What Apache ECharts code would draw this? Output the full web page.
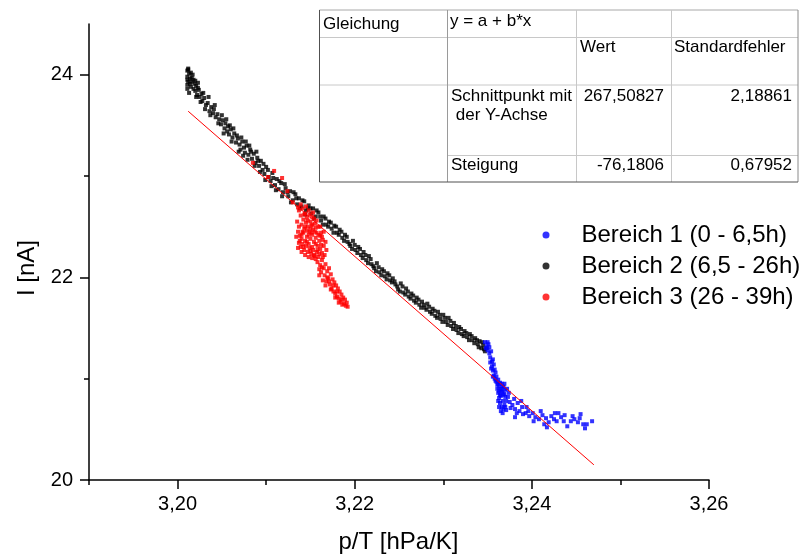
<!DOCTYPE html>
<html>
<head>
<meta charset="utf-8">
<script src="https://cdn.jsdelivr.net/npm/echarts@6/dist/echarts.min.js"></script>
<style>
  html, body { margin: 0; padding: 0; background: #fff; }
  #chart { width: 807px; height: 557px; }
</style>
</head>
<body>
<div id="chart"></div>
<script>
// Linear fit y = a + b*x
const fitA = 267.50827;
const fitB = -76.1806;
const fitAErr = 2.18861;
const fitBErr = 0.67952;
const fitRange = [3.2012, 3.2470];

// Axis ticks
const xMajorTicks = [3.20, 3.22, 3.24, 3.26];
const xMinorTicks = [3.19, 3.21, 3.23, 3.25];
const yMajorTicks = [20, 22, 24];
const yMinorTicks = [21, 23];

const seriesNames = ['Bereich 1 (0 - 6,5h)', 'Bereich 2 (6,5 - 26h)', 'Bereich 3 (26 - 39h)'];

// Bereich 1: p/T [hPa/K], I [nA]
const bereich1 = [
  [3.2347,21.36],[3.2349,21.32],[3.2350,21.28],[3.2351,21.34],[3.2352,21.25],[3.2353,21.21],[3.2354,21.27],
  [3.2355,21.17],[3.2355,21.12],[3.2356,21.08],[3.2357,21.14],[3.2357,21.03],[3.2358,21.00],[3.2359,21.06],
  [3.2360,20.97],[3.2361,20.94],[3.2362,20.99],[3.2363,20.92],[3.2364,20.96],[3.2365,20.90],[3.2366,20.95],
  [3.2367,20.88],[3.2368,20.92],[3.2369,20.85],[3.2370,20.89],[3.2362,20.86],[3.2363,20.81],[3.2364,20.76],
  [3.2365,20.83],[3.2366,20.72],[3.2367,20.78],[3.2368,20.70],[3.2369,20.74],[3.2371,20.69],[3.2373,20.82],
  [3.2375,20.77],[3.2376,20.71],[3.2380,20.80],[3.2384,20.76],[3.2388,20.78],[3.2381,20.70],[3.2386,20.68],
  [3.2390,20.65],[3.2394,20.72],[3.2393,20.66],[3.2381,20.62],[3.2397,20.63],[3.2401,20.66],[3.2404,20.62],
  [3.2408,20.60],[3.2412,20.64],[3.2416,20.61],[3.2419,20.57],[3.2422,20.63],[3.2425,20.60],[3.2428,20.58],
  [3.2430,20.66],[3.2433,20.62],[3.2437,20.64],[3.2440,20.53],[3.2444,20.58],[3.2446,20.63],[3.2452,20.57],
  [3.2454,20.61],[3.2458,20.55],[3.2460,20.51],[3.2468,20.58],[3.2417,20.52],[3.2414,20.55],
  [3.2348,21.30],[3.2350,21.36],[3.2352,21.31],[3.2353,21.16],[3.2354,21.10],[3.2356,21.19],[3.2356,21.02],
  [3.2358,21.09],[3.2359,20.98],[3.2360,21.02],[3.2361,20.90],[3.2362,20.95],[3.2363,20.88],[3.2364,20.84],
  [3.2366,20.87],[3.2367,20.92],[3.2368,20.84],[3.2369,20.95],[3.2370,20.82],[3.2371,20.78],[3.2372,20.90],
  [3.2374,20.86],[3.2362,20.78],[3.2363,20.72],[3.2365,20.68],[3.2367,20.66],[3.2370,20.72],[3.2378,20.74],
  [3.2383,20.66],[3.2389,20.72],[3.2396,20.68],[3.2402,20.58],[3.2410,20.68],[3.2426,20.66],[3.2436,20.58],
  [3.2448,20.60],[3.2455,20.65],[3.2462,20.55]
];

// Bereich 2
const bereich2 = [
  [3.2011,24.04],[3.2011,23.98],[3.2012,23.93],[3.2011,23.90],[3.2013,24.01],[3.2014,23.96],[3.2015,23.88],
  [3.2016,23.93],[3.2017,24.00],[3.2018,23.86],[3.2019,23.91],[3.2020,23.84],[3.2021,23.89],[3.2022,23.80],
  [3.2024,23.85],[3.2025,23.78],[3.2012,24.05],[3.2016,23.97],[3.2020,23.94],[3.2023,23.87],[3.2011,23.86],
  [3.2014,23.91],
  [3.2027,23.81],[3.2028,23.74],[3.2030,23.77],[3.2032,23.70],[3.2034,23.72],[3.2036,23.64],[3.2038,23.68],
  [3.2040,23.62],[3.2041,23.66],[3.2043,23.58],[3.2045,23.61],
  [3.2047,23.56],[3.2049,23.51],[3.2051,23.55],[3.2053,23.47],[3.2054,23.52],[3.2056,23.44],[3.2057,23.49],
  [3.2058,23.41],[3.2060,23.46],[3.2062,23.38],[3.2064,23.42],
  [3.2066,23.33],[3.2068,23.37],[3.2070,23.31],[3.2071,23.26],[3.2073,23.34],[3.2075,23.28],[3.2076,23.23],
  [3.2078,23.30],[3.2080,23.21],[3.2082,23.26],[3.2084,23.17],[3.2086,23.22],[3.2088,23.13],[3.2090,23.18],
  [3.2092,23.10],[3.2094,23.15],[3.2096,23.06],[3.2098,23.02],[3.2100,23.09],[3.2103,22.99],[3.2105,22.95],
  [3.2107,23.03],[3.2110,22.91],[3.2112,22.97],[3.2114,22.87],[3.2117,22.93],[3.2119,22.84],
  [3.2122,22.88],[3.2125,22.80],[3.2127,22.85],[3.2130,22.76],[3.2133,22.82],[3.2135,22.72],[3.2137,22.78],
  [3.2140,22.70],[3.2143,22.75],[3.2145,22.66],[3.2148,22.71],
  [3.2151,22.63],[3.2153,22.68],[3.2156,22.60],[3.2159,22.64],[3.2162,22.56],[3.2165,22.60],[3.2168,22.52],
  [3.2171,22.55],[3.2174,22.48],[3.2177,22.51],[3.2180,22.44],
  [3.2183,22.47],[3.2186,22.39],[3.2189,22.42],[3.2192,22.35],[3.2195,22.31],[3.2198,22.36],[3.2201,22.27],
  [3.2204,22.30],[3.2207,22.22],[3.2210,22.25],
  [3.2213,22.17],[3.2216,22.21],[3.2219,22.13],[3.2222,22.09],[3.2225,22.14],[3.2228,22.05],[3.2231,22.08],
  [3.2234,22.01],[3.2237,22.04],[3.2240,21.97],
  [3.2243,21.99],[3.2246,21.93],[3.2249,21.88],[3.2252,21.94],[3.2255,21.85],[3.2258,21.89],[3.2261,21.81],
  [3.2264,21.84],[3.2267,21.77],[3.2270,21.80],
  [3.2273,21.73],[3.2276,21.76],[3.2279,21.70],[3.2282,21.74],[3.2285,21.66],[3.2288,21.69],[3.2291,21.62],
  [3.2294,21.66],[3.2297,21.59],[3.2300,21.63],
  [3.2303,21.56],[3.2306,21.60],[3.2309,21.52],[3.2312,21.55],[3.2315,21.48],[3.2318,21.51],[3.2321,21.44],
  [3.2324,21.47],[3.2327,21.41],[3.2330,21.44],[3.2333,21.38],
  [3.2336,21.40],[3.2339,21.34],[3.2341,21.37],[3.2343,21.30],[3.2345,21.33],[3.2347,21.27],[3.2349,21.30],
  [3.2011,23.95],[3.2012,24.06],[3.2013,23.82],[3.2015,24.02],[3.2018,23.95],[3.2021,23.78],[3.2023,23.92],
  [3.2026,23.73],[3.2029,23.82],[3.2031,23.66],[3.2035,23.78],[3.2037,23.60],[3.2042,23.70],[3.2046,23.52],
  [3.2050,23.60],[3.2052,23.42],[3.2055,23.56],[3.2059,23.50],[3.2061,23.34],[3.2063,23.47],[3.2067,23.40],
  [3.2069,23.24],[3.2072,23.38],[3.2074,23.20],[3.2077,23.34],[3.2079,23.16],[3.2081,23.30],[3.2083,23.24],
  [3.2087,23.10],[3.2089,23.24],[3.2091,23.15],[3.2093,23.04],[3.2097,23.12],[3.2099,22.96],[3.2102,23.06],
  [3.2106,22.90],[3.2108,22.98],[3.2111,22.86],[3.2115,22.95],[3.2118,22.80],[3.2121,22.92],[3.2124,22.84],
  [3.2128,22.74],[3.2131,22.84],[3.2134,22.78],[3.2138,22.68],[3.2141,22.76],[3.2144,22.62],[3.2147,22.68],
  [3.2150,22.68],[3.2154,22.58],[3.2157,22.66],[3.2161,22.60],[3.2164,22.52],[3.2167,22.58],[3.2170,22.50],
  [3.2173,22.54],[3.2176,22.44],[3.2179,22.50],[3.2182,22.42],[3.2185,22.45],[3.2188,22.36],[3.2191,22.40],
  [3.2194,22.33],[3.2197,22.28],[3.2200,22.32],[3.2203,22.24],[3.2206,22.28],[3.2209,22.19],[3.2212,22.22],
  [3.2215,22.14],[3.2218,22.18],[3.2221,22.11],[3.2224,22.06],[3.2227,22.10],[3.2230,22.02],[3.2233,22.06],
  [3.2236,21.98],[3.2239,22.02],[3.2242,21.95],[3.2245,21.96],[3.2248,21.91],[3.2251,21.86],[3.2254,21.91],
  [3.2257,21.83],[3.2260,21.86],[3.2263,21.79],[3.2266,21.82],[3.2269,21.75],[3.2272,21.78],[3.2275,21.70],
  [3.2278,21.73],[3.2281,21.68],[3.2284,21.71],[3.2287,21.64],[3.2290,21.67],[3.2293,21.60],[3.2296,21.63],
  [3.2299,21.56],[3.2302,21.60],[3.2305,21.53],[3.2308,21.57],[3.2311,21.49],[3.2314,21.52],[3.2317,21.45],
  [3.2320,21.49],[3.2323,21.42],[3.2326,21.45],[3.2329,21.38],[3.2332,21.42],[3.2335,21.35],[3.2338,21.38],
  [3.2340,21.31],[3.2344,21.36],[3.2346,21.29]
];

// Bereich 3
const bereich3 = [
  [3.2085,23.13],[3.2102,22.99],[3.2109,23.05],[3.2118,22.98],[3.2124,22.85],[3.2130,22.74],[3.2136,22.69],
  [3.2137,22.66],[3.2139,22.61],[3.2141,22.68],[3.2142,22.57],[3.2144,22.63],[3.2146,22.59],[3.2148,22.66],
  [3.2150,22.55],[3.2152,22.60],[3.2140,22.52],[3.2143,22.48],[3.2145,22.54],[3.2147,22.50],[3.2149,22.45],
  [3.2151,22.51],[3.2153,22.47],[3.2155,22.53],[3.2157,22.44],[3.2136,22.45],[3.2138,22.41],[3.2140,22.38],
  [3.2142,22.44],[3.2144,22.36],[3.2146,22.40],[3.2148,22.33],[3.2150,22.38],[3.2152,22.42],[3.2154,22.35],
  [3.2156,22.39],[3.2158,22.31],[3.2160,22.36],[3.2162,22.44],[3.2159,22.50],[3.2161,22.41],[3.2137,22.34],
  [3.2139,22.30],[3.2141,22.33],[3.2143,22.27],[3.2145,22.31],[3.2147,22.25],[3.2149,22.29],[3.2151,22.23],
  [3.2153,22.27],[3.2155,22.21],[3.2157,22.25],[3.2159,22.20],[3.2161,22.28],[3.2163,22.24],[3.2146,22.46],
  [3.2150,22.48],[3.2154,22.58],[3.2156,22.49],[3.2152,22.30],[3.2148,22.20],[3.2144,22.22],[3.2140,22.25],
  [3.2165,22.31],[3.2164,22.37],
  [3.2134,22.40],[3.2135,22.55],[3.2137,22.50],[3.2139,22.72],[3.2141,22.45],[3.2143,22.62],[3.2145,22.70],
  [3.2147,22.56],[3.2149,22.62],[3.2151,22.44],[3.2153,22.64],[3.2155,22.45],[3.2157,22.56],[3.2159,22.42],
  [3.2161,22.50],[3.2163,22.40],[3.2165,22.45],[3.2167,22.35],[3.2168,22.27],[3.2166,22.22],[3.2162,22.32],
  [3.2158,22.27],[3.2154,22.22],[3.2150,22.26],[3.2146,22.35],[3.2142,22.30],[3.2138,22.36],[3.2136,22.29],
  [3.2140,22.42],[3.2144,22.50],[3.2148,22.42],[3.2152,22.52],[3.2156,22.33],[3.2160,22.23],[3.2164,22.20],
  [3.2156,22.18],[3.2152,22.19],
  [3.2158,22.15],[3.2161,22.12],[3.2163,22.17],[3.2165,22.09],[3.2162,22.05],[3.2167,22.13],[3.2169,22.06],
  [3.2166,22.02],[3.2171,22.09],[3.2170,21.99],[3.2173,22.03],[3.2168,21.96],[3.2175,21.98],[3.2172,21.93],
  [3.2177,21.95],[3.2174,21.89],[3.2179,21.92],[3.2176,21.86],[3.2181,21.89],[3.2178,21.84],[3.2183,21.86],
  [3.2180,21.81],[3.2185,21.83],[3.2182,21.79],[3.2187,21.80],[3.2184,21.76],[3.2189,21.78],[3.2191,21.75],
  [3.2186,21.73],[3.2192,21.71],[3.2164,21.97],[3.2160,22.08],
  [3.2160,22.02],[3.2167,21.92],[3.2171,21.96],[3.2176,21.92],[3.2180,21.86],[3.2185,21.78],[3.2188,21.74],
  [3.2190,21.72],[3.2163,22.10],[3.2169,22.00],[3.2173,21.88],[3.2178,21.80],[3.2182,21.75]
];

const FONT = '"Liberation Sans", Arial, sans-serif';
const fmtDe = (v, d) => v.toFixed(d).replace('.', ',');

const fitLine = fitRange.map(x => [x, fitA + fitB * x]);

// Fit result table drawn in the upper right corner
const tblX = [319.5, 447.5, 576.5, 671.5, 798];
const tblY = [10, 37.5, 85, 155.5, 182];
const light = '#c8c8c8';
const dark = '#505050';
function hLine(x1, x2, y, c) {
  return { type: 'line', shape: { x1, y1: y, x2, y2: y }, style: { stroke: c, lineWidth: 1 }, z: 10 };
}
function vLine(x, y1, y2, c) {
  return { type: 'line', shape: { x1: x, y1, x2: x, y2 }, style: { stroke: c, lineWidth: 1 }, z: 10 };
}
function cellText(text, x, y, align) {
  return { type: 'text', x, y, z: 11,
    style: { text, fill: '#000', font: '17px ' + FONT, textAlign: align || 'left', textVerticalAlign: 'middle' } };
}
const tableGraphics = [
  { type: 'rect', shape: { x: tblX[0], y: tblY[0], width: tblX[4] - tblX[0], height: tblY[4] - tblY[0] },
    style: { fill: '#fff' }, z: 9 },
  hLine(tblX[0], tblX[4], tblY[0], '#a8a8a8'),
  hLine(tblX[0], tblX[4], tblY[1], light),
  hLine(tblX[0], tblX[4], tblY[2], light),
  hLine(tblX[1], tblX[4], tblY[3], light),
  vLine(tblX[1], tblY[0], tblY[4], '#9a9a9a'),
  vLine(tblX[2], tblY[0], tblY[4], light),
  vLine(tblX[3], tblY[0], tblY[4], light),
  vLine(tblX[4], tblY[0], tblY[4], '#8a8a8a'),
  vLine(tblX[0], tblY[0], tblY[4], dark),
  hLine(tblX[0], tblX[4], tblY[4], dark),
  cellText('Gleichung', 323, 24),
  cellText('y = a + b*x', 450, 21),
  cellText('Wert', 580, 47.5),
  cellText('Standardfehler', 674, 47.5),
  cellText('Schnittpunkt mit', 451, 96),
  cellText(' der Y-Achse', 451, 115),
  cellText(fmtDe(fitA, 5), 664, 96, 'right'),
  cellText(fmtDe(fitAErr, 5), 792, 96, 'right'),
  cellText('Steigung', 451, 165),
  cellText(fmtDe(fitB, 4), 664, 165, 'right'),
  cellText(fmtDe(fitBErr, 5), 792, 165, 'right')
];

const axisTitleStyle = { fill: '#000', font: '24px ' + FONT, textAlign: 'center', textVerticalAlign: 'middle' };

const chart = echarts.init(document.getElementById('chart'), null, { renderer: 'canvas' });
chart.setOption({
  backgroundColor: '#fff',
  animation: false,
  textStyle: { fontFamily: FONT },
  grid: { left: 89, right: 98, top: 24, bottom: 77, containLabel: false },
  legend: {
    orient: 'vertical',
    left: 542.5, top: 223, padding: 0,
    icon: 'circle', itemWidth: 7, itemHeight: 7, itemGap: 7,
    textStyle: { fontSize: 24, color: '#000', fontFamily: FONT, padding: [0, 0, 0, 27] },
    data: seriesNames
  },
  xAxis: [
    {
      type: 'value', min: 3.19, max: 3.26, position: 'bottom',
      axisLine: { lineStyle: { color: '#000', width: 1.5 } },
      axisTick: { show: true, length: 9, inside: false, customValues: xMajorTicks, lineStyle: { color: '#000', width: 1.5 } },
      axisLabel: { customValues: xMajorTicks, margin: 14, fontSize: 20, color: '#000', fontFamily: FONT,
        formatter: v => fmtDe(v, 2) },
      splitLine: { show: false }
    },
    {
      type: 'value', min: 3.19, max: 3.26, position: 'bottom', offset: 0,
      axisLine: { show: false },
      axisTick: { show: true, length: 5, inside: false, customValues: xMinorTicks, lineStyle: { color: '#000', width: 1.5 } },
      axisLabel: { show: false },
      splitLine: { show: false }
    }
  ],
  yAxis: [
    {
      type: 'value', min: 20, max: 24.5, position: 'left',
      axisLine: { show: true, lineStyle: { color: '#000', width: 1.5 } },
      axisTick: { show: true, length: 9, inside: false, customValues: yMajorTicks, lineStyle: { color: '#000', width: 1.5 } },
      axisLabel: { customValues: yMajorTicks, margin: 16, fontSize: 20, color: '#000', fontFamily: FONT },
      splitLine: { show: false }
    },
    {
      type: 'value', min: 20, max: 24.5, position: 'left', offset: 0,
      axisLine: { show: false },
      axisTick: { show: true, length: 5, inside: false, customValues: yMinorTicks, lineStyle: { color: '#000', width: 1.5 } },
      axisLabel: { show: false },
      splitLine: { show: false }
    }
  ],
  series: [
    { name: seriesNames[0], type: 'scatter', data: bereich1, symbol: 'rect', symbolSize: 4,
      itemStyle: { color: '#0000ff' }, z: 4 },
    { name: seriesNames[1], type: 'scatter', data: bereich2, symbol: 'rect', symbolSize: 4,
      itemStyle: { color: '#000000' }, z: 2 },
    { name: seriesNames[2], type: 'scatter', data: bereich3, symbol: 'rect', symbolSize: 4,
      itemStyle: { color: '#ff0000' }, z: 3 },
    { name: 'Fit', type: 'line', data: fitLine, symbol: 'none', silent: true,
      lineStyle: { color: '#ff0000', width: 1 }, z: 5 }
  ],
  graphic: [
    { type: 'text', x: 27, y: 268, rotation: Math.PI / 2, style: Object.assign({ text: 'I [nA]' }, axisTitleStyle) },
    { type: 'text', x: 398.5, y: 542, style: Object.assign({ text: 'p/T [hPa/K]' }, axisTitleStyle) }
  ].concat(tableGraphics)
});
</script>
</body>
</html>
